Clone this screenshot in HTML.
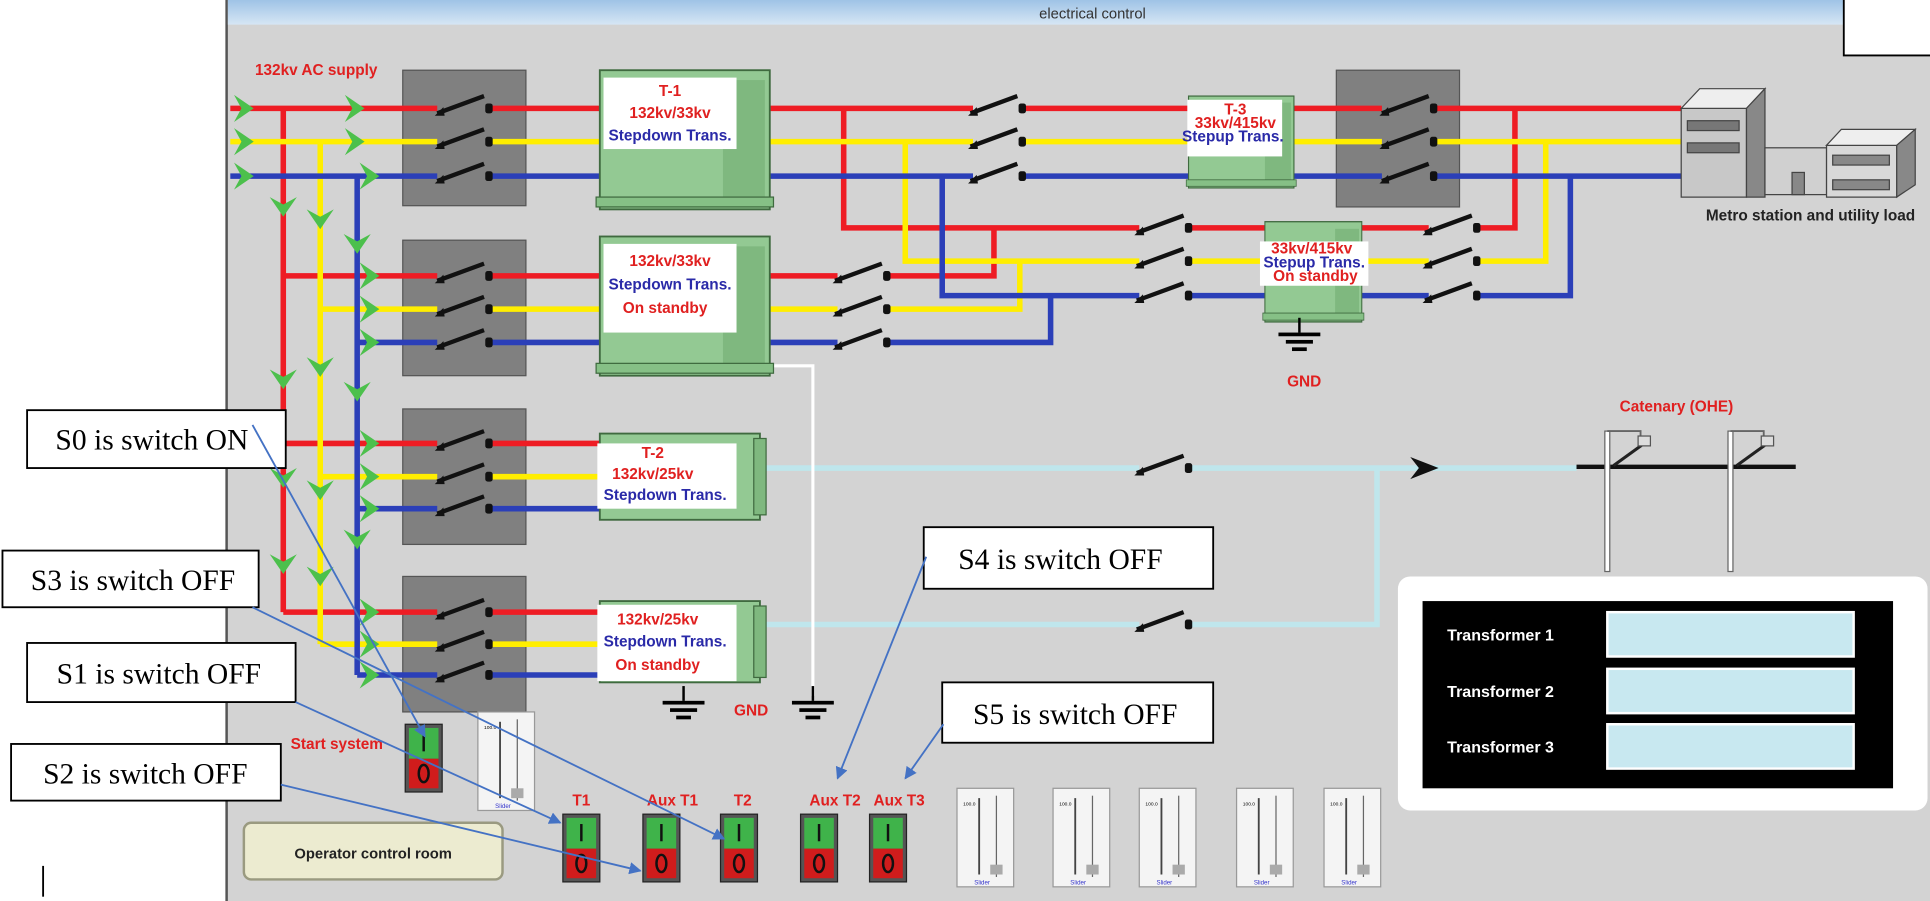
<!DOCTYPE html>
<html><head><meta charset="utf-8"><style>
html,body{margin:0;padding:0;background:#fff;width:1930px;height:901px;overflow:hidden}
svg{display:block}
.lb{font-family:"Liberation Sans",sans-serif;font-weight:bold;font-size:12.5px}
.r{fill:#e02020}.b{fill:#2a2aa8}
.co{font-family:"Liberation Serif",serif;font-size:24px;fill:#000}
</style></head><body>
<svg width="1930" height="901" viewBox="0 0 1567 731.5" preserveAspectRatio="none" xmlns="http://www.w3.org/2000/svg">
<defs>
<linearGradient id="tb" x1="0" y1="0" x2="0" y2="1"><stop offset="0" stop-color="#9fc3e6"/><stop offset="1" stop-color="#d6e6f4"/></linearGradient>
<g id="sw"><line x1="0" y1="4" x2="38" y2="-10" stroke="#111" stroke-width="3.5"/><path d="M-2,6 L5,-1 L6,6 Z" fill="#111"/><rect x="39" y="-4" width="6" height="8" rx="2" fill="#111"/></g>
<path id="ch" d="M-10,-11 L6,0 L-10,11 L-4,0 Z" fill="#4cc04c"/>
<path id="chd" d="M-11,-10 L0,6 L11,-10 L0,-4 Z" fill="#4cc04c"/>
<g id="tr"><rect x="0" y="0" width="138" height="113" fill="#93c993" stroke="#3f6a3f" stroke-width="1.5"/><rect x="100" y="8" width="34" height="100" fill="#7fb87f"/><rect x="-3" y="103" width="144" height="8" fill="#86c086" stroke="#3f6a3f"/></g>
<g id="gnd"><line x1="0" y1="0" x2="0" y2="12" stroke="#000" stroke-width="2"/><rect x="-17" y="12" width="34" height="3" fill="#000"/><rect x="-11" y="18" width="22" height="3" fill="#000"/><rect x="-6" y="24" width="12" height="3" fill="#000"/></g>
<g id="tg"><rect x="0" y="0" width="30" height="55" fill="#555" stroke="#222"/><rect x="3" y="3" width="24" height="25" fill="#3fb34a"/><rect x="3" y="28" width="24" height="24" fill="#d01c1c"/><line x1="15" y1="8" x2="15" y2="22" stroke="#111" stroke-width="2"/><ellipse cx="15" cy="40" rx="4" ry="7" fill="none" stroke="#111" stroke-width="2"/></g>
<g id="sl"><rect x="0" y="0" width="46" height="80" fill="#f4f4f4" stroke="#999"/><line x1="18" y1="8" x2="18" y2="70" stroke="#444" stroke-width="1.5"/><line x1="32" y1="6" x2="32" y2="72" stroke="#666"/><rect x="27" y="62" width="10" height="8" fill="#aaa"/><text x="5" y="14" font-size="4" font-family="Liberation Sans">100.0</text><text x="14" y="78" font-size="5" fill="#3333cc" font-family="Liberation Sans">Slider</text></g>
<marker id="ar" markerWidth="10" markerHeight="10" refX="9" refY="5" orient="auto" markerUnits="userSpaceOnUse"><path d="M0,0 L10,5 L0,10 Z" fill="#4472c4"/></marker>
</defs>
<rect x="0" y="0" width="1567" height="732" fill="#fff"/>
<rect x="183" y="0" width="1384" height="732" fill="#d3d3d3"/>
<line x1="184" y1="0" x2="184" y2="732" stroke="#555" stroke-width="2"/>
<rect x="185" y="0" width="1382" height="20" fill="url(#tb)"/>
<text x="887" y="15" font-family="Liberation Sans" font-size="12" fill="#333" text-anchor="middle">electrical control</text>
<rect x="1497" y="0" width="70" height="45" fill="#fff"/><path d="M1497,0 V45 H1567" fill="none" stroke="#000" stroke-width="1.5"/>

<g fill="#808080" stroke="#555"><rect x="327" y="57" width="100" height="110"/><rect x="327" y="195" width="100" height="110"/><rect x="327" y="332" width="100" height="110"/><rect x="327" y="468" width="100" height="110"/><rect x="1085" y="57" width="100" height="111"/></g>

<g fill="none" stroke-width="4.5">
<g stroke="#ee1c24">
<path d="M187,88 H355 M397,88 H487 M625,88 H790 M830,88 H965 M1050,88 H1122 M1164,88 H1365"/>
<path d="M230,88 V497 M230,224 H355 M230,360 H355 M230,497 H355 M397,224 H487 M397,360 H487 M397,497 H487"/>
<path d="M685,88 V185 H925 M967,185 H1160 M1200,185 H1230 V88"/>
<path d="M625,224 H680 M722,224 H807 V185"/>
</g>
<g stroke="#ffee00">
<path d="M187,115 H355 M397,115 H487 M625,115 H790 M830,115 H965 M1050,115 H1122 M1164,115 H1365"/>
<path d="M260,115 V523 M260,251 H355 M260,387 H355 M260,523 H355 M397,251 H487 M397,387 H487 M397,523 H487"/>
<path d="M735,115 V212 H925 M967,212 H1160 M1200,212 H1255 V115"/>
<path d="M625,251 H680 M722,251 H828 V212"/>
</g>
<g stroke="#2b3fb8">
<path d="M187,143 H355 M397,143 H487 M625,143 H790 M830,143 H965 M1050,143 H1122 M1164,143 H1365"/>
<path d="M290,143 V548 M290,278 H355 M290,413 H355 M290,548 H355 M397,278 H487 M397,413 H487 M397,548 H487"/>
<path d="M765,143 V240 H925 M967,240 H1160 M1200,240 H1275 V143"/>
<path d="M625,278 H680 M722,278 H853 V240"/>
</g>
<path d="M622,380 H925 M967,380 H1280 M620,507 H925 M967,507 H1118 V380" stroke="#bfe6ec"/>
<path d="M625,297 H660 V565" stroke="#fff" stroke-width="2.5"/>
</g>

<g>
<use href="#sw" x="355" y="88"/><use href="#sw" x="355" y="115"/><use href="#sw" x="355" y="143"/>
<use href="#sw" x="355" y="224"/><use href="#sw" x="355" y="251"/><use href="#sw" x="355" y="278"/>
<use href="#sw" x="355" y="360"/><use href="#sw" x="355" y="387"/><use href="#sw" x="355" y="413"/>
<use href="#sw" x="355" y="497"/><use href="#sw" x="355" y="523"/><use href="#sw" x="355" y="548"/>
<use href="#sw" x="788" y="88"/><use href="#sw" x="788" y="115"/><use href="#sw" x="788" y="143"/>
<use href="#sw" x="1122" y="88"/><use href="#sw" x="1122" y="115"/><use href="#sw" x="1122" y="143"/>
<use href="#sw" x="678" y="224"/><use href="#sw" x="678" y="251"/><use href="#sw" x="678" y="278"/>
<use href="#sw" x="923" y="185"/><use href="#sw" x="923" y="212"/><use href="#sw" x="923" y="240"/>
<use href="#sw" x="1157" y="185"/><use href="#sw" x="1157" y="212"/><use href="#sw" x="1157" y="240"/>
<use href="#sw" x="923" y="380"/><use href="#sw" x="923" y="507"/>
</g>

<use href="#tr" x="487" y="57"/>
<use href="#tr" x="487" y="192"/>
<rect x="487" y="352" width="130" height="70" fill="#93c993" stroke="#3f6a3f" stroke-width="1.5"/><rect x="612" y="356" width="10" height="62" fill="#7fb87f" stroke="#3f6a3f"/>
<rect x="487" y="488" width="130" height="66" fill="#93c993" stroke="#3f6a3f" stroke-width="1.5"/><rect x="612" y="492" width="10" height="58" fill="#7fb87f" stroke="#3f6a3f"/>
<g transform="translate(965,78) scale(0.62,0.66)"><use href="#tr"/></g>
<g transform="translate(1027,180) scale(0.57,0.72)"><use href="#tr"/></g>

<g fill="#fff">
<rect x="490" y="63" width="108" height="58"/><rect x="490" y="198" width="108" height="72"/>
<rect x="485" y="360" width="113" height="53"/><rect x="485" y="491" width="113" height="62"/>
<rect x="964" y="81" width="77" height="46"/><rect x="1023" y="196" width="88" height="36"/>
</g>
<g class="lb" text-anchor="middle">
<text x="544" y="78" class="r">T-1</text><text x="544" y="96" class="r">132kv/33kv</text><text x="544" y="114" class="b">Stepdown Trans.</text>
<text x="544" y="216" class="r">132kv/33kv</text><text x="544" y="235" class="b">Stepdown Trans.</text><text x="540" y="254" class="r">On standby</text>
<text x="530" y="372" class="r">T-2</text><text x="530" y="389" class="r">132kv/25kv</text><text x="540" y="406" class="b">Stepdown Trans.</text>
<text x="534" y="507" class="r">132kv/25kv</text><text x="540" y="525" class="b">Stepdown Trans.</text><text x="534" y="544" class="r">On standby</text>
<text x="1003" y="93" class="r">T-3</text><text x="1003" y="104" class="r">33kv/415kv</text><text x="1001" y="115" class="b">Stepup Trans.</text>
<text x="1065" y="206" class="r">33kv/415kv</text><text x="1067" y="217" class="b">Stepup Trans.</text><text x="1068" y="228" class="r">On standby</text>
</g>

<use href="#gnd" x="1055" y="258"/><use href="#gnd" x="555" y="557"/><use href="#gnd" x="660" y="557"/>
<g class="lb r"><text x="1045" y="314">GND</text><text x="596" y="581">GND</text>
<text x="207" y="61">132kv AC supply</text><text x="1315" y="334">Catenary (OHE)</text><text x="236" y="608">Start system</text></g>

<use href="#ch" x="200" y="88"/><use href="#ch" x="200" y="115"/><use href="#ch" x="200" y="143"/>
<use href="#ch" x="290" y="88"/><use href="#ch" x="290" y="115"/><use href="#ch" x="302" y="143"/>
<use href="#ch" x="302" y="224"/><use href="#ch" x="302" y="251"/><use href="#ch" x="302" y="278"/>
<use href="#ch" x="302" y="360"/><use href="#ch" x="302" y="387"/><use href="#ch" x="302" y="413"/>
<use href="#ch" x="302" y="497"/><use href="#ch" x="302" y="523"/><use href="#ch" x="302" y="548"/>
<use href="#chd" x="230" y="170"/><use href="#chd" x="260" y="180"/><use href="#chd" x="290" y="200"/>
<use href="#chd" x="230" y="310"/><use href="#chd" x="260" y="300"/><use href="#chd" x="290" y="320"/>
<use href="#chd" x="230" y="390"/><use href="#chd" x="260" y="400"/><use href="#chd" x="290" y="440"/>
<use href="#chd" x="230" y="460"/><use href="#chd" x="260" y="470"/>
<path d="M1145,371 L1168,380 L1145,389 L1152,380 Z" fill="#111"/>

<g stroke="#444" stroke-width="1">
<polygon points="1365,88 1418,88 1418,160 1365,160" fill="#c8c8c8"/>
<polygon points="1365,88 1380,72 1433,72 1418,88" fill="#eee"/>
<polygon points="1418,88 1433,72 1433,160 1418,160" fill="#888"/>
<rect x="1370" y="98" width="42" height="8" fill="#777"/><rect x="1370" y="116" width="42" height="8" fill="#777"/>
<rect x="1433" y="120" width="50" height="38" fill="#d0d0d0"/><rect x="1455" y="140" width="10" height="18" fill="#888"/>
<polygon points="1483,118 1540,118 1540,160 1483,160" fill="#d8d8d8"/>
<polygon points="1483,118 1495,105 1555,105 1540,118" fill="#eee"/>
<polygon points="1540,118 1555,105 1555,150 1540,160" fill="#888"/>
<rect x="1488" y="126" width="46" height="8" fill="#888"/><rect x="1488" y="146" width="46" height="8" fill="#888"/>
</g>
<text x="1470" y="179" class="lb" fill="#222" text-anchor="middle">Metro station and utility load</text>

<line x1="1280" y1="379" x2="1458" y2="379" stroke="#111" stroke-width="3.5"/>
<g stroke="#666" fill="#fff"><rect x="1303" y="350" width="4" height="114"/><rect x="1403" y="350" width="4" height="114"/></g>
<g stroke="#222" stroke-width="2.5"><line x1="1310" y1="378" x2="1335" y2="360"/><line x1="1410" y1="378" x2="1435" y2="360"/></g>
<g stroke="#666" fill="none" stroke-width="1.5"><path d="M1305,350 H1332 V355"/><path d="M1405,350 H1432 V355"/></g>
<rect x="1330" y="354" width="10" height="8" fill="#ddd" stroke="#555"/><rect x="1430" y="354" width="10" height="8" fill="#ddd" stroke="#555"/>

<rect x="1135" y="468" width="430" height="190" rx="10" fill="#fff"/>
<rect x="1155" y="488" width="382" height="152" fill="#000"/>
<g fill="#c8e8f0" stroke="#fff" stroke-width="2"><rect x="1305" y="497" width="200" height="36"/><rect x="1305" y="543" width="200" height="36"/><rect x="1305" y="588" width="200" height="36"/></g>
<g font-family="Liberation Sans" font-weight="bold" font-size="13" fill="#fff"><text x="1175" y="520">Transformer 1</text><text x="1175" y="566">Transformer 2</text><text x="1175" y="611">Transformer 3</text></g>

<rect x="198" y="668" width="210" height="46" rx="6" fill="#ecebd0" stroke="#9a9a80" stroke-width="2"/>
<text x="303" y="697" font-family="Liberation Sans" font-weight="bold" font-size="12" fill="#222" text-anchor="middle">Operator control room</text>
<use href="#tg" x="329" y="588"/>
<use href="#sl" x="388" y="578"/>
<use href="#tg" x="457" y="661"/><use href="#tg" x="522" y="661"/><use href="#tg" x="585" y="661"/><use href="#tg" x="650" y="661"/><use href="#tg" x="706" y="661"/>
<g class="lb r" text-anchor="middle"><text x="472" y="654">T1</text><text x="546" y="654">Aux T1</text><text x="603" y="654">T2</text><text x="678" y="654">Aux T2</text><text x="730" y="654">Aux T3</text></g>
<use href="#sl" x="777" y="640"/><use href="#sl" x="855" y="640"/><use href="#sl" x="925" y="640"/><use href="#sl" x="1004" y="640"/><use href="#sl" x="1075" y="640"/>
<line x1="35" y1="703" x2="35" y2="728" stroke="#000" stroke-width="1.5"/>

<g fill="#fff" stroke="#000" stroke-width="1.5">
<rect x="22" y="333" width="210" height="47"/><rect x="2" y="447" width="208" height="46"/>
<rect x="22" y="522" width="218" height="48"/><rect x="9" y="604" width="219" height="46"/>
<rect x="750" y="428" width="235" height="50"/><rect x="765" y="554" width="220" height="49"/>
</g>
<g class="co"><text x="45" y="365">S0 is switch ON</text><text x="25" y="479">S3 is switch OFF</text>
<text x="46" y="555">S1 is switch OFF</text><text x="35" y="636">S2 is switch OFF</text>
<text x="778" y="462">S4 is switch OFF</text><text x="790" y="588">S5 is switch OFF</text></g>
<g stroke="#4472c4" stroke-width="1.5" fill="none" marker-end="url(#ar)">
<line x1="205" y1="345" x2="345" y2="598"/>
<line x1="205" y1="493" x2="588" y2="681"/>
<line x1="240" y1="570" x2="455" y2="668"/>
<line x1="228" y1="637" x2="520" y2="707"/>
<line x1="752" y1="452" x2="680" y2="632"/>
<line x1="766" y1="588" x2="735" y2="632"/>
</g>
</svg>
</body></html>
